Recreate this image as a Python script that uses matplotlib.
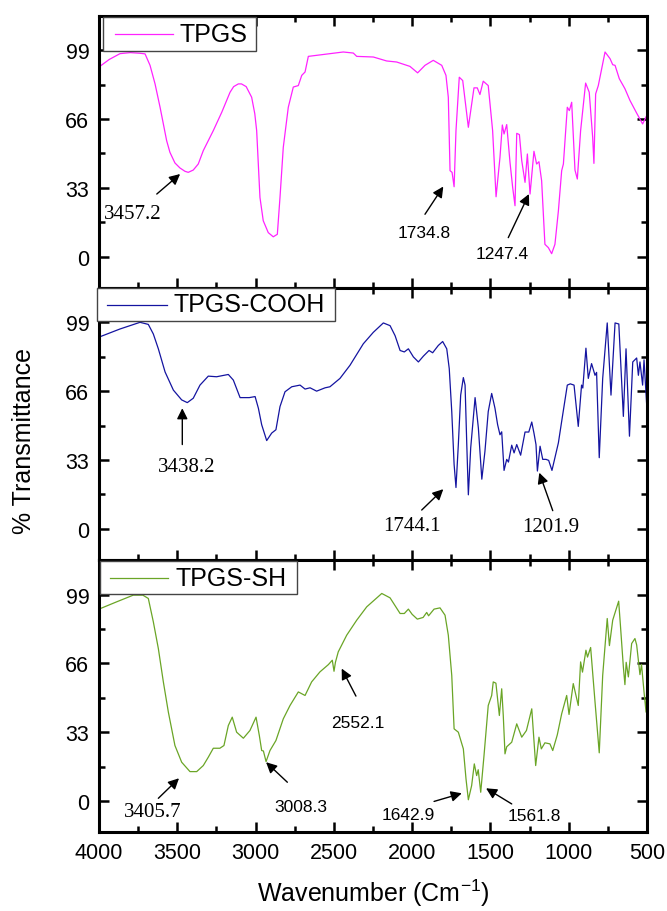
import matplotlib
matplotlib.use('Agg')
import matplotlib.pyplot as plt
from matplotlib.ticker import MultipleLocator
from matplotlib.patches import Rectangle
from matplotlib.lines import Line2D

# ---- data ----
wn_tpgs = [4000, 3935, 3866, 3800, 3740, 3706, 3674, 3642, 3610, 3568, 3547, 3515, 3483, 3451, 3430,
           3398, 3366, 3334, 3270, 3216, 3163, 3140, 3110, 3090, 3060, 3025, 3005, 2993, 2972, 2951,
           2919, 2887, 2861, 2844, 2823, 2791, 2759, 2727, 2705, 2684, 2663, 2610, 2525, 2440, 2376,
           2354, 2248, 2163, 2099, 2014, 1965, 1918, 1865, 1811, 1784, 1769, 1758, 1745, 1732, 1720,
           1699, 1677, 1641, 1605, 1584, 1567, 1546, 1514, 1486, 1464, 1439, 1424, 1413, 1396, 1375,
           1358, 1343, 1332, 1315, 1300, 1279, 1264, 1247, 1222, 1205, 1190, 1173, 1152, 1130, 1109,
           1088, 1066, 1045, 1034, 1009, 996, 981, 960, 945, 924, 892, 869, 847, 839, 828, 811, 768,
           736, 719, 704, 677, 641, 609, 566, 528, 502]
tr_tpgs = [90.9, 94.5, 97.3, 97.8, 97.5, 97.2, 91.7, 82.8, 71.6, 55.6, 50.0, 44.9, 42.5, 40.9, 40.4,
           41.5, 44.4, 50.8, 60.4, 69.2, 78.8, 81.5, 82.8, 82.8, 81.5, 76.4, 68.5, 60.4, 28.4, 17.2,
           11.5, 9.5, 10.7, 28.4, 52.4, 71.6, 81.3, 82.0, 86.9, 88.5, 96.0, 96.5, 97.3, 98.1, 97.6,
           96.0, 95.7, 93.8, 93.3, 91.2, 88.1, 91.7, 94.1, 91.7, 86.9, 76.4, 41.2, 40.4, 33.5, 60.4,
           86.0, 84.4, 62.0, 80.9, 80.9, 77.7, 84.1, 82.0, 60.4, 28.7, 47.6, 63.1, 58.8, 63.3, 45.2,
           33.2, 24.4, 59.1, 58.5, 46.0, 35.6, 49.2, 30.0, 50.5, 44.4, 45.5, 36.4, 5.9, 4.3, 1.4,
           5.9, 21.9, 41.2, 44.4, 71.6, 70.0, 74.0, 41.5, 37.2, 60.4, 83.2, 78.8, 57.2, 44.7, 78.0, 82.0, 98.1,
           94.9, 92.0, 91.7, 85.3, 80.5, 74.9, 68.8, 63.6, 67.6]

wn_cooh = [4000, 3866, 3738, 3685, 3653, 3621, 3578, 3525, 3472, 3436, 3398, 3355, 3302, 3249, 3174,
           3142, 3099, 3040, 3003, 2982, 2961, 2929, 2897, 2870, 2844, 2812, 2769, 2716, 2684, 2652,
           2610, 2556, 2525, 2461, 2397, 2312, 2248, 2184, 2141, 2109, 2077, 2050, 2024, 1992, 1960,
           1928, 1892, 1869, 1833, 1805, 1779, 1763, 1747, 1732, 1720, 1705, 1690, 1673, 1662, 1651,
           1641, 1626, 1598, 1577, 1555, 1535, 1514, 1492, 1471, 1454, 1439, 1428, 1413, 1396, 1385,
           1364, 1349, 1332, 1307, 1279, 1255, 1236, 1222, 1209, 1200, 1183, 1166, 1145, 1128, 1107,
           1066, 1045, 1009, 990, 966, 939, 918, 910, 890, 875, 854, 832, 822, 805, 783, 754, 730,
           704, 680, 651, 634, 612, 591, 566, 555, 545, 528, 519, 502]
tr_cooh = [91.9, 95.8, 99.0, 98.0, 93.4, 86.3, 75.2, 66.5, 61.8, 60.5, 62.6, 68.9, 73.2, 72.9, 74.0,
           71.3, 62.9, 62.9, 63.4, 57.8, 49.9, 42.3, 45.9, 47.5, 58.6, 65.7, 68.1, 68.9, 67.0, 67.6,
           66.0, 67.6, 68.1, 72.1, 78.4, 88.7, 94.2, 98.7, 97.4, 92.6, 85.5, 84.8, 86.3, 82.4, 80.0,
           82.8, 85.5, 84.4, 87.9, 89.8, 86.3, 76.8, 56.2, 30.9, 19.8, 40.4, 64.1, 72.5, 68.9, 40.4,
           16.3, 38.8, 62.9, 48.3, 23.8, 37.2, 56.2, 64.9, 57.8, 49.9, 45.1, 46.5, 28.0, 33.3, 32.0,
           40.1, 36.4, 40.4, 35.3, 46.4, 46.4, 51.2, 45.9, 40.4, 27.7, 39.6, 33.3, 33.3, 32.8, 28.0,
           41.2, 51.5, 68.9, 69.5, 68.9, 49.1, 68.9, 67.5, 86.6, 72.1, 79.2, 73.6, 75.0, 34.1, 72.1, 98.7, 64.1,
           98.7, 98.2, 53.9, 86.3, 44.4, 80.0, 81.9, 73.6, 80.0, 68.9, 81.0, 59.4]

wn_sh = [4000, 3887, 3781, 3720, 3685, 3653, 3621, 3589, 3557, 3515, 3472, 3419, 3376, 3334, 3302,
         3270, 3228, 3202, 3174, 3149, 3121, 3078, 3036, 2997, 2976, 2961, 2950, 2933, 2908, 2870,
         2823, 2780, 2727, 2684, 2642, 2589, 2535, 2510, 2499, 2490, 2472, 2418, 2354, 2290, 2194,
         2141, 2077, 2050, 2024, 2000, 1967, 1930, 1907, 1895, 1860, 1822, 1790, 1769, 1747, 1732,
         1705, 1673, 1656, 1641, 1620, 1603, 1588, 1578, 1562, 1541, 1514, 1492, 1482, 1465, 1443,
         1428, 1418, 1407, 1396, 1364, 1332, 1300, 1270, 1236, 1211, 1190, 1175, 1152, 1120, 1102,
         1073, 1045, 1013, 998, 971, 939, 924, 912, 890, 880, 860, 832, 805, 783, 754, 740, 719,
         681, 670, 651, 641, 633, 619, 598, 577, 566, 545, 535, 519, 506, 498]
tr_sh = [92.0, 95.5, 98.7, 98.7, 97.1, 85.9, 73.1, 57.1, 42.6, 26.6, 18.6, 14.1, 14.1, 17.0, 21.0,
         25.3, 25.3, 26.6, 36.2, 40.2, 33.0, 30.1, 33.8, 40.2, 31.4, 24.2, 24.0, 18.9, 24.2, 29.0,
         39.4, 45.8, 52.3, 50.6, 57.1, 61.9, 65.4, 67.5, 62.2, 66.5, 71.5, 79.5, 86.7, 93.1, 99.5,
         97.4, 89.9, 89.9, 92.0, 89.5, 87.2, 88.0, 90.4, 88.8, 92.0, 92.6, 89.1, 79.5, 60.2, 34.6,
         33.0, 25.0, 10.6, 0.6, 7.4, 17.8, 12.2, 15.0, 4.2, 21.8, 45.8, 50.6, 57.1, 56.5, 41.0,
         53.8, 41.0, 22.6, 26.0, 28.2, 37.0, 30.6, 33.8, 44.2, 17.0, 30.6, 25.0, 27.9, 27.4, 24.2,
         31.7, 41.8, 50.6, 41.5, 56.3, 45.8, 66.7, 61.8, 72.3, 69.0, 73.6, 47.5, 23.1, 60.2, 87.5, 74.5, 86.7,
         95.8, 84.5, 64.3, 55.8, 66.5, 59.5, 75.5, 77.9, 74.8, 60.6, 65.5, 52.3, 42.6, 65.0]

names = ['TPGS', 'TPGS-COOH', 'TPGS-SH']
colors = ['#ff22ff', '#1414a0', '#6aa526']

# annotations: (label, text x, text y, tail x, tail y, head x, head y, serif?)
notes = [
    [('3457.2', 3783, 20.7, 3631, 30.0, 3482, 39.6, True),
     ('1734.8', 1924, 11.5, 1918, 20.3, 1801, 33.6, False),
     ('1247.4', 1426, 1.3, 1386, 9.1, 1254, 30.0, False)],
    [('3438.2', 3438, 29.8, 3468, 40.4, 3468, 57.8, True),
     ('1744.1', 2001, 1.6, 1939, 9.0, 1801, 19.0, True),
     ('1201.9', 1113, 1.1, 1102, 8.7, 1188, 26.9, True)],
    [('3405.7', 3655, -5.0, 3621, 1.3, 3489, 10.9, True),
     ('3008.3', 2710, -2.6, 2797, 9.0, 2933, 18.6, False),
     ('2552.1', 2346, 37.8, 2359, 50.3, 2450, 63.5, False),
     ('1642.9', 2026, -6.3, 1860, -0.2, 1683, 3.7, False),
     ('1561.8', 1222, -7.0, 1364, -1.4, 1528, 6.1, False)],
]

# legend boxes in pixels: box left, box right, box top, box bottom, line start, line end, text start
legend_px = [(103, 256, 18, 52, 115, 173, 180),
             (97, 335, 289, 322, 107, 167, 174),
             (100, 297, 562, 595, 110, 168, 176)]

plt.rcParams['font.family'] = ['Liberation Sans', 'DejaVu Sans']

W, H = 667, 912
fig = plt.figure(figsize=(6.67, 9.12), dpi=100)
left, right, top, bottom = 99 / W, 647 / W, 1 - 16.7 / H, 1 - 833.3 / H
h = (top - bottom) / 3

series = [(wn_tpgs, tr_tpgs), (wn_cooh, tr_cooh), (wn_sh, tr_sh)]
for i in range(3):
    ax = fig.add_axes([left, top - (i + 1) * h, right - left, h])
    x, y = series[i]
    ax.plot(x, y, color=colors[i], lw=0.9)
    ax.set_xlim(4000, 500)
    ax.set_ylim(-15, 115.5)
    ax.set_yticks([0, 33, 66, 99])
    ax.yaxis.set_minor_locator(MultipleLocator(16.5))
    ax.xaxis.set_major_locator(MultipleLocator(500))
    ax.xaxis.set_minor_locator(MultipleLocator(250))
    ax.tick_params(which='both', direction='in', top=True, right=True, width=1.8)
    ax.tick_params(which='major', length=7, labelsize=15.5, pad=7)
    ax.tick_params(which='minor', length=4)
    for s in ax.spines.values():
        s.set_linewidth(2.2)
    if i < 2:
        ax.tick_params(labelbottom=False)
    for lab, tx, ty, ax0, ay0, hx, hy, serif in notes[i]:
        ax.annotate('', xy=(hx, hy), xytext=(ax0, ay0),
                    arrowprops=dict(arrowstyle='-|>', color='black', lw=1.0,
                                    mutation_scale=16, shrinkA=0, shrinkB=0))
        ax.text(tx, ty, lab, ha='center', va='center',
                fontsize=15 if serif else 12.5,
                family='Liberation Serif' if serif else 'Liberation Sans')

    # legend box drawn by hand
    bl, br, bt, bb, l0, l1, t0 = legend_px[i]
    fig.patches.append(Rectangle((bl / W, 1 - bb / H), (br - bl) / W, (bb - bt) / H,
                                 transform=fig.transFigure, facecolor='white',
                                 edgecolor='#444444', lw=1.0, zorder=5))
    ym = 1 - (bt + bb) / 2 / H
    fig.lines.append(Line2D([l0 / W, l1 / W], [ym, ym], transform=fig.transFigure,
                            color=colors[i], lw=0.9, zorder=6))
    fig.text(t0 / W, ym, names[i], ha='left', va='center', fontsize=18, zorder=7)

fig.text(24 / W, 1 - 441 / H, '% Transmittance', rotation=90, ha='center', va='center', fontsize=18)
fig.text(373 / W, 1 - 893 / H, 'Wavenumber (Cm$^{\\mathregular{-1}}$)', ha='center', va='center', fontsize=18)

fig.savefig('out.png', dpi=100)
